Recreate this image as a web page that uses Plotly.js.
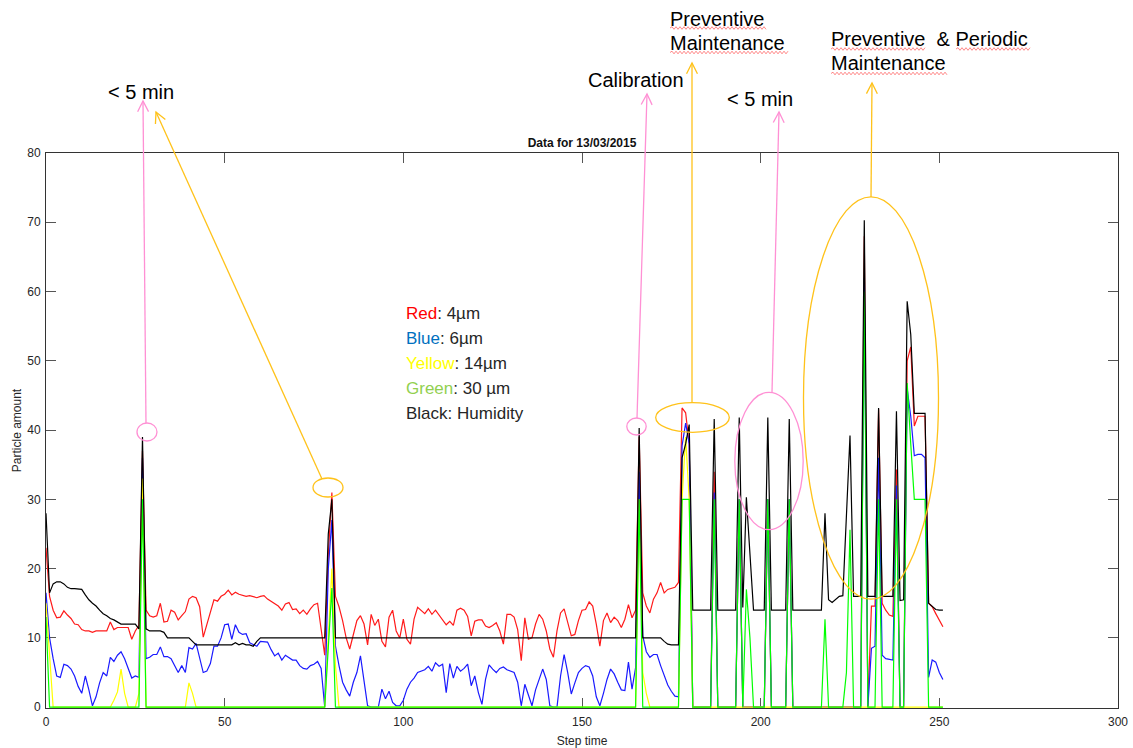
<!DOCTYPE html>
<html><head><meta charset="utf-8">
<script src="https://cdn.plot.ly/plotly-3.0.1.min.js"></script>
<style>html,body{margin:0;padding:0;background:#fff}#chart{width:1133px;height:748px}</style>
</head><body><div id="chart"></div>
<script>
// ---------------- DATA ----------------
const stepTime = Array.from({length: 252}, (_, i) => i);

const red4um = [23,16,14,12.9,13,13.9,13.3,12.8,12,11.9,
11.2,11,11,10.8,11,11,11,11,12.3,11.2,
11.5,11.5,11.6,11.5,9.8,11,11.8,37,14,13.2,
13,13.2,15,12.3,12.4,14,13.7,12.6,13.2,13.8,
15.6,16,15.8,14.5,10.1,12,14,15.5,15.3,16,
16.3,16.9,16.2,16.6,16.3,16.1,16,16.1,16,15.8,
16,16.1,15.6,15.3,15,14.6,14,14.9,15.1,14.1,
14.2,13.5,14,13.4,14.2,14.8,15,11,7.5,22,
31,16,14.5,12.5,10,8.4,10.5,12.5,13.2,12,
9,13.4,11.8,12.7,9.5,8.7,13,14,11,10,
12.7,9.8,9.1,12.7,14.4,13.9,13.5,14.2,13.4,14,
13.3,12.5,11.9,12.4,11.8,14,14.3,14,13.1,10.3,
12.4,12.6,12.6,11.7,11.5,11.8,12.2,11,9.1,13.4,
13.4,13,11.2,6.7,12.9,9.8,10,12,13.4,12.7,
11,8.4,7.2,11,13.6,14.2,12.2,10.3,10.5,12.5,
14,14.1,15.2,14.6,12,8.8,12.5,13.6,12.2,13,
12.5,11.5,12.7,14.8,12.9,14,39,16.5,14.6,13.6,
15.6,16.5,18,16.5,17,17.2,17.3,18,43.2,42.5,
38,0,0,0,0,0,0,34,0,0,
0,0,0,0,30,0,0,0,0,0,
0,0,30,0,0,0,0,0,30,0,
0,0,0,0,0,0,0,0,0,0,
0,0,0,0,0,0,0,0,0,68,
0,14.6,14.6,43,15,14,13.3,13.1,34.3,0,
0,50,52,40.6,42,42,42,15,14.5,13.5,
12.5,11.6];

const blue6um = [16.5,10,7,4.5,4.3,6.2,6,5.5,4.5,3,
2,4.5,2.5,0.2,1.5,3.5,5,4.5,7.2,6.6,
7.5,8,7,5.5,4.2,4.5,4.3,36,7,7.2,
7.6,7.6,8.7,7.3,7.3,7,6,5,6,5,
8.6,8.4,9.2,7,5,5.2,6.3,8.8,8.8,10,
11.9,12,9.8,11.9,10.8,10.5,10.6,9.3,9,8.8,
9.5,9.5,9.4,8.3,7.4,7.8,6.8,7.5,7.2,6.8,
6.8,6,5.6,5.5,6,6.2,6.6,5.6,0,20,
27,8.8,6,3.6,2.5,1.6,3.6,5,7.4,4,
0.2,0,0,0,2.6,1.2,2.3,0.7,0.2,0.2,
1,2.6,3.6,4.2,5,5.2,5.4,5.9,5.2,6.4,
5.9,6.2,2.1,6.3,4.2,5.9,5.2,5.6,6.2,3.1,
4.5,2.1,0.4,4,6.1,5.5,5,5.6,5.8,5.4,
5.2,5,3.6,0.2,3.3,1.6,0.2,2.5,4,5.5,
4,0.2,0,0,4.5,7.6,5,1.9,3.5,5,
5.6,6,5.8,4.5,1.5,0.2,2,4,5.5,4.8,
3.6,2.5,2.4,6.5,2.6,5.7,34,10.3,8,7.2,
7.6,7.6,6,4.5,3.2,2.3,1.6,1.5,37.7,41,
38,0,0,0,0,0,0,31,0,0,
0,0,0,0,30,0,0,0,0,0,
0,0,30,0,0,0,0,0,30,0,
0,0,0,0,0,0,0,0,0,0,
0,0,0,0,0,0,0,0,0,62,
0,8.5,8.8,36,7.5,7,6.9,6.8,32,0,
0,46,42,36.3,36.5,36.5,36,4.3,6.8,6.5,
5,4];

const yellow14um = [15,7,0,0,0,0,0,0,0,0,
0,0,0,0,0,0,0,0,0,1,
2.2,5.5,2,0,0,0,2,33,0,0,
0,0,0,0,0,0,0,0,0,0,
3.5,2,0,0,0,0,0,0,0,0,
0,0,0,0,0,0,0,0,0,0,
0,0,0,0,0,0,0,0,0,0,
0,0,0,0,0,0,0,0,0,10,
20,6,0,0,0,0,0,0,0,0,
0,0,0,0,0,0,0,0,0,0,
0,0,0,0,0,0,0,0,0,0,
0,0,0,0,0,0,0,0,0,0,
0,0,0,0,0,0,0,0,0,0,
0,0,0,0,0,0,0,0,0,0,
0,0,0,0,0,0,0,0,0,0,
0,0,0,0,0,0,0,0,0,0,
0,0,0,0,0,0,30,5,2,0,
0,0,0,0,0,0,0,0,30,39,
30,0,0,0,0,0,0,0,0,0,
0,0,0,0,0,0,0,0,0,0,
0,0,0,0,0,0,0,0,0,0,
0,0,0,0,0,0,0,0,0,0,
0,0,0,0,0,0,0,0,0,0,
0,0,0,0,0,0,0,0,0,0,
0,0,0,0,0,0,0,0,0,0,
0,0];

const green30um = [13,0,0,0,0,0,0,0,0,0,
0,0,0,0,0,0,0,0,0,0,
0,0,0,0,0,0,0,30,0,0,
0,0,0,0,0,0,0,0,0,0,
0,0,0,0,0,0,0,0,0,0,
0,0,0,0,0,0,0,0,0,0,
0,0,0,0,0,0,0,0,0,0,
0,0,0,0,0,0,0,0,0,8.6,
17.2,0,0,0,0,0,0,0,0,0,
0,0,0,0,0,0,0,0,0,0,
0,0,0,0,0,0,0,0,0,0,
0,0,0,0,0,0,0,0,0,0,
0,0,0,0,0,0,0,0,0,0,
0,0,0,0,0,0,0,0,0,0,
0,0,0,0,0,0,0,0,0,0,
0,0,0,0,0,0,0,0,0,0,
0,0,0,0,0,0,30,0,0,0,
0,0,0,0,0,0,0,0,30,30,
30,0,0,0,0,0,0,30,0,0,
0,0,0,0,30,0,17,10,0,0,
0,0,30,0,0,0,0,0,30,0,
0,0,0,0,0,0,0,0,12.7,0,
0,0,0,0,5,25.6,0,0,0,60,
0,0,0,30,0,0,0,0,30,0,
0,46.8,38,30,30,30,30,0,0,0,
0,0];

const blackHumidity = [28,16.5,17.8,18.1,18.1,17.8,17.3,17.1,17.1,17.1,
17,16.2,15.5,15,14.6,14,13.5,13.2,12.8,12.6,
12.3,12,12,12,12,12,11.3,39,11.3,11,
11,11,11,10.8,10,10,10,10,10,10,
10,9.5,9,9,9,9,9,9,9,9,
9,9,9,9.3,9,9.2,9,9,8.8,9.5,
10,10,10,10,10,10,10,10,10,10,
10,10,10,10,10,10,10,10,10,25,
30,10,10,10,10,10,10,10,10,10,
10,10,10,10,10,10,10,10,10,10,
10,10,10,10,10,10,10,10,10,10,
10,10,10,10,10,10,10,10,10,10,
10,10,10,10,10,10,10,10,10,10,
10,10,10,10,10,10,10,10,10,10,
10,10,10,10,10,10,10,10,10,10,
10,10,10,10,10,10,10,10,10,10,
10,10,10,10,10,10,40.3,10,10,10,
10,10,10,9.5,9.1,9,9,9,36,38,
40.8,14,14,14,14,14,14,41.6,14,14,
14,14,14,14,41.8,14.4,30.3,22,14,14,
14,14,41.8,14,14,14,14,14,41.6,14,
14,14,14,14,14,14,14,14,28,15.5,
15.1,15.6,16,16.1,27,39.2,16,16,16,70.3,
16,16,16,43.2,16,16,16,16,42.7,15.4,
15.5,58.6,53.8,42.4,42.4,42.4,42.4,15,14.5,14.1,
14,14];

const xTicks = [0, 50, 100, 150, 200, 250, 300];
const yTicks = [0, 10, 20, 30, 40, 50, 60, 70, 80];

// ---------------- GEOMETRY HELPERS (decorations only) ----------------
const W = 1133, H = 748, ML = 46, MR = 15, MT = 153, MB = 40;
const PW = W - ML - MR, PH = H - MT - MB;
const fx = p => (p - ML) / PW;           // pixel x -> paper x
const fy = p => (H - MB - p) / PH;       // pixel y -> paper y

const PINK = '#ff90d4', ORANGE = '#ffc21a';
const shapes = [];
function ellipse(cx, cy, rx, ry, color) {
  shapes.push({type: 'circle', xref: 'paper', yref: 'paper',
    x0: fx(cx - rx), x1: fx(cx + rx), y0: fy(cy + ry), y1: fy(cy - ry),
    line: {color: color, width: 1.3}});
}
function arrow(tx, ty, hx, hy, color) {
  shapes.push({type: 'line', xref: 'paper', yref: 'paper',
    x0: fx(tx), y0: fy(ty), x1: fx(hx), y1: fy(hy), line: {color: color, width: 1.3}});
  const dx = tx - hx, dy = ty - hy, d = Math.hypot(dx, dy);
  const ux = dx / d, uy = dy / d, a = 27 * Math.PI / 180, len = 12;
  const r = (s) => [hx + len * (ux * Math.cos(s) - uy * Math.sin(s)), hy + len * (ux * Math.sin(s) + uy * Math.cos(s))];
  const p1 = r(a), p2 = r(-a);
  shapes.push({type: 'path', xref: 'paper', yref: 'paper',
    path: `M${fx(p1[0])},${fy(p1[1])} L${fx(hx)},${fy(hy)} L${fx(p2[0])},${fy(p2[1])}`,
    line: {color: color, width: 1.3}});
}
function squiggle(x0, x1, y) {
  let p = `M${fx(x0)},${fy(y)}`;
  let up = true;
  for (let x = x0 + 2; x <= x1; x += 2) { p += ` L${fx(x)},${fy(y + (up ? -1.3 : 1.3))}`; up = !up; }
  shapes.push({type: 'path', xref: 'paper', yref: 'paper', path: p, line: {color: '#ff6a6a', width: 0.8}});
}

ellipse(147, 432, 10, 9, PINK);
ellipse(328, 487.5, 15, 9.5, ORANGE);
ellipse(636.5, 426.5, 9.7, 8.5, PINK);
ellipse(692.5, 417.5, 36.8, 14.8, ORANGE);
ellipse(769, 461, 34.2, 68.7, PINK);
ellipse(871, 398, 67.5, 201.2, ORANGE);

arrow(146, 423, 143, 101, PINK);
arrow(322, 479, 156, 112, ORANGE);
arrow(637, 418, 647, 94, PINK);
arrow(692, 403, 692, 63, ORANGE);
arrow(772, 392.5, 779, 112, PINK);
arrow(871, 197, 872, 83, ORANGE);

squiggle(670, 766, 28);
squiggle(670, 788, 52.5);
squiggle(831, 925, 49);
squiggle(956, 1030, 49);
squiggle(831, 948, 73.5);

const TXT = {family: '"Liberation Sans", Arial, sans-serif', size: 20, color: '#000'};
const LEG = {family: '"Liberation Sans", Arial, sans-serif', size: 17, color: '#262626'};
function label(text, px, py, anchor, font) {
  return {xref: 'paper', yref: 'paper', x: fx(px), y: fy(py), xanchor: anchor, yanchor: 'middle',
    text: text, showarrow: false, font: font, align: 'left'};
}
const annotations = [
  label('&lt; 5 min', 140.5, 92, 'center', TXT),
  label('Calibration', 586, 80, 'left', TXT),
  label('Preventive', 668, 19, 'left', TXT),
  label('Maintenance', 668, 43, 'left', TXT),
  label('&lt; 5 min', 725, 99, 'left', TXT),
  label('Preventive&nbsp; &amp; Periodic', 829, 39, 'left', TXT),
  label('Maintenance', 829, 63, 'left', TXT),
  label('<span style="color:#ff0000">Red</span>: 4µm', 404, 313, 'left', LEG),
  label('<span style="color:#0070c0">Blue</span>: 6µm', 404, 338, 'left', LEG),
  label('<span style="color:#ffff00">Yellow</span>: 14µm', 404, 363, 'left', LEG),
  label('<span style="color:#92d050">Green</span>: 30 µm', 404, 388, 'left', LEG),
  label('Black: Humidity', 404, 413, 'left', LEG)
];

// ---------------- TRACES ----------------
function line(y, color, name) {
  return {x: stepTime, y: y, type: 'scatter', mode: 'lines', name: name,
    line: {color: color, width: 1.2}, hoverinfo: 'skip'};
}
const data = [
  line(red4um, '#ff1a1a', '4µm'),
  line(blue6um, '#1a1aff', '6µm'),
  line(yellow14um, '#ffff00', '14µm'),
  line(green30um, '#00ff00', '30µm'),
  line(blackHumidity, '#000000', 'Humidity')
];

const axisCommon = {
  ticks: 'inside', ticklen: 10, tickwidth: 1, tickcolor: '#555',
  showline: true, linecolor: '#333', linewidth: 1, mirror: 'ticks',
  showgrid: false, zeroline: false, layer: 'below traces', automargin: false,
  tickfont: {size: 12, color: '#262626'}
};

const layout = {
  width: W, height: H,
  margin: {l: ML, r: MR, t: MT, b: MB},
  paper_bgcolor: '#ffffff', plot_bgcolor: '#ffffff',
  showlegend: false,
  font: {family: '"Liberation Sans", Arial, sans-serif', size: 12, color: '#262626'},
  title: {text: '<b>Data for 13/03/2015</b>', font: {size: 12, color: '#111'},
    xref: 'paper', x: 0.5, xanchor: 'center', yref: 'container', y: 1 - 143 / H, yanchor: 'middle'},
  xaxis: Object.assign({}, axisCommon, {
    range: [0, 300], tickmode: 'array', tickvals: xTicks, ticktext: xTicks.map(String),
    ticklabelstandoff: 3,
    title: {text: 'Step time', standoff: 8, font: {size: 12, color: '#262626'}}
  }),
  yaxis: Object.assign({}, axisCommon, {
    range: [-0.12, 80], tickmode: 'array', tickvals: yTicks, ticktext: yTicks.map(String),
    ticklabelstandoff: 2,
    title: {text: 'Particle amount', standoff: 3, font: {size: 12, color: '#262626'}}
  }),
  shapes: shapes,
  annotations: annotations
};

Plotly.newPlot('chart', data, layout, {displayModeBar: false, staticPlot: true});
</script>
</body></html>
